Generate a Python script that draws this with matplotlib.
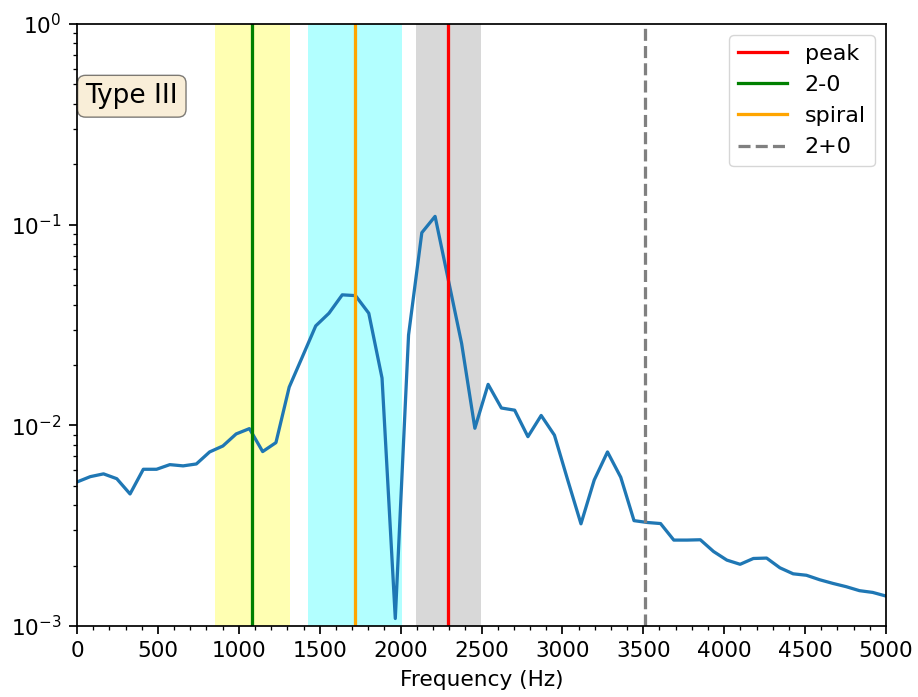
import numpy as np
import matplotlib
matplotlib.use("Agg")
import matplotlib.pyplot as plt
from matplotlib.ticker import MultipleLocator

n_points = 62
f_max = 5000
freqs = [i * f_max / (n_points - 1) for i in range(n_points)]
power = [5.22e-3, 5.55e-3, 5.73e-3, 5.42e-3, 4.55e-3, 6.04e-3, 6.04e-3, 6.37e-3,
         6.28e-3, 6.42e-3, 7.37e-3, 7.89e-3, 9.06e-3, 9.63e-3, 7.40e-3, 8.20e-3,
         1.55e-2, 2.20e-2, 3.13e-2, 3.62e-2, 4.47e-2, 4.43e-2, 3.62e-2, 1.72e-2,
         1.09e-3, 2.82e-2, 9.12e-2, 0.110, 5.30e-2, 2.56e-2, 9.67e-3, 1.60e-2,
         1.22e-2, 1.19e-2, 8.78e-3, 1.12e-2, 8.93e-3, 5.34e-3, 3.23e-3, 5.34e-3,
         7.37e-3, 5.51e-3, 3.35e-3, 3.28e-3, 3.24e-3, 2.68e-3, 2.68e-3, 2.69e-3,
         2.35e-3, 2.13e-3, 2.03e-3, 2.17e-3, 2.18e-3, 1.95e-3, 1.82e-3, 1.79e-3,
         1.70e-3, 1.63e-3, 1.57e-3, 1.50e-3, 1.47e-3, 1.41e-3]

bands = [(853, 1316, 'yellow', 0.3), (1428, 2009, 'cyan', 0.3), (2095, 2497, 'gray', 0.3)]
peak_f = 2293
two_zero_f = 1082
spiral_f = 1718
two_plus_zero_f = 3510

S = 1.56
plt.rcParams.update({
    'font.size': 10 * S,
    'axes.linewidth': 0.8 * S,
    'xtick.major.size': 3.5 * S, 'ytick.major.size': 3.5 * S,
    'xtick.minor.size': 2 * S, 'ytick.minor.size': 2 * S,
    'xtick.major.width': 0.8 * S, 'ytick.major.width': 0.8 * S,
    'xtick.minor.width': 0.6 * S, 'ytick.minor.width': 0.6 * S,
    'xtick.major.pad': 3.5 * S, 'ytick.major.pad': 3.5 * S,
    'axes.labelpad': 4 * S,
})

fig = plt.figure(figsize=(9.18, 6.97), dpi=100)
ax = fig.add_axes([77/918, 1-626/697, (886-77)/918, (626-24)/697])

for lo, hi, c, a in bands:
    ax.axvspan(lo, hi, color=c, alpha=a, lw=0)
ax.plot(freqs, power, color='#1f77b4', lw=1.5 * S)
ax.axvline(peak_f, color='red', lw=1.5 * S, label='peak')
ax.axvline(two_zero_f, color='green', lw=1.5 * S, label='2-0')
ax.axvline(spiral_f, color='orange', lw=1.5 * S, label='spiral')
ax.axvline(two_plus_zero_f, color='gray', lw=1.5 * S, ls='--', label='2+0')

ax.set_yscale('log')
ax.set_ylim(1e-3, 1)
ax.set_xlim(0, 5000)
ax.xaxis.set_major_locator(MultipleLocator(500))
ax.xaxis.set_minor_locator(MultipleLocator(100))
ax.set_xlabel('Frequency (Hz)')
ax.legend(loc='upper right', fontsize=16, handlelength=2.2)
ax.text(0.0105, 0.880, 'Type III', transform=ax.transAxes, fontsize=19,
        va='center', ha='left',
        bbox=dict(boxstyle='round', facecolor='wheat', alpha=0.5))

fig.savefig('out.png', dpi=100)
